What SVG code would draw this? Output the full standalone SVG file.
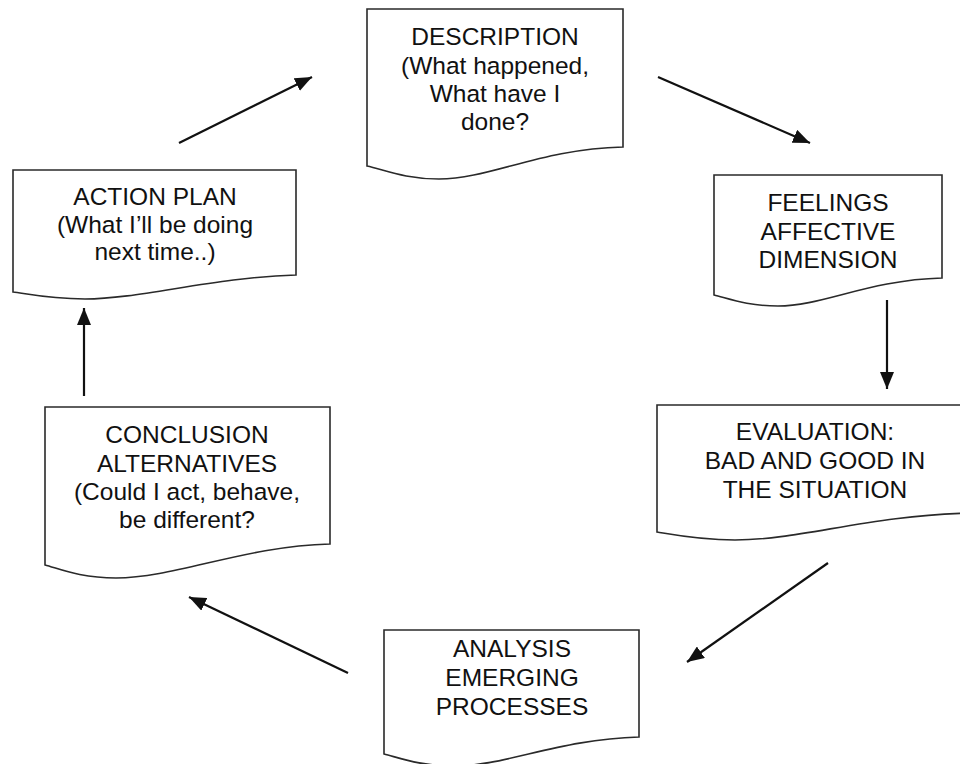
<svg xmlns="http://www.w3.org/2000/svg" width="960" height="764" viewBox="0 0 960 764">
<style>
.doc{fill:#fff;stroke:#2a2a2a;stroke-width:1.6}
.t{font-family:"Liberation Sans",Arial,sans-serif;font-size:24.5px;fill:#111;text-anchor:middle}
.c{stroke:#111;stroke-width:2.2;fill:none;marker-end:url(#ah)}
</style>
<defs>
<marker id="ah" markerUnits="userSpaceOnUse" markerWidth="18" markerHeight="14" refX="17" refY="7" orient="auto">
<path d="M0,0 L17,7 L0,14 Z" fill="#111"/>
</marker>
</defs>
<rect width="960" height="764" fill="#fff"/>
<g id="connectors">
<line class="c" x1="179" y1="143" x2="312" y2="77"/>
<line class="c" x1="658" y1="77" x2="810" y2="143"/>
<line class="c" x1="887" y1="300" x2="887" y2="389"/>
<line class="c" x1="828" y1="563" x2="687" y2="662"/>
<line class="c" x1="348" y1="673" x2="189" y2="597"/>
<line class="c" x1="84" y1="396" x2="84" y2="308"/>
</g>
<g id="description">
<path class="doc" d="M367,9 H623 V147 C540,149 490,179 439,179 C405,179 385,170 367,166 Z"/>
<text class="t" x="495" y="45">DESCRIPTION</text>
<text class="t" x="495" y="74">(What happened,</text>
<text class="t" x="495" y="102">What have I</text>
<text class="t" x="495" y="130">done?</text>
</g>
<g id="feelings">
<path class="doc" d="M714,175 H942 V278 C868,280 823,306 778,306 C748,306 730,299 714,295 Z"/>
<text class="t" x="828" y="211">FEELINGS</text>
<text class="t" x="828" y="240">AFFECTIVE</text>
<text class="t" x="828" y="268">DIMENSION</text>
</g>
<g id="evaluation">
<path class="doc" d="M657,405 H972 V513 C870,515 800,540 735,540 C700,540 675,535 657,532 Z"/>
<text class="t" x="815" y="440">EVALUATION:</text>
<text class="t" x="815" y="469">BAD AND GOOD IN</text>
<text class="t" x="815" y="498">THE SITUATION</text>
</g>
<g id="analysis">
<path class="doc" d="M384,630 H639 V737 C560,739 505,766 455,766 C420,766 400,758 384,754 Z"/>
<text class="t" x="512" y="657">ANALYSIS</text>
<text class="t" x="512" y="686">EMERGING</text>
<text class="t" x="512" y="715">PROCESSES</text>
</g>
<g id="conclusion">
<path class="doc" d="M45,407 H330 V544 C245,546 175,578 116,578 C80,578 60,569 45,565 Z"/>
<text class="t" x="187" y="443">CONCLUSION</text>
<text class="t" x="187" y="472">ALTERNATIVES</text>
<text class="t" x="187" y="500">(Could I act, behave,</text>
<text class="t" x="187" y="528">be different?</text>
</g>
<g id="action-plan">
<path class="doc" d="M13,170 H296 V275 C215,277 140,299 85,299 C50,299 28,294 13,292 Z"/>
<text class="t" x="155" y="205">ACTION PLAN</text>
<text class="t" x="155" y="233">(What I’ll be doing</text>
<text class="t" x="155" y="260">next time..)</text>
</g>
</svg>
